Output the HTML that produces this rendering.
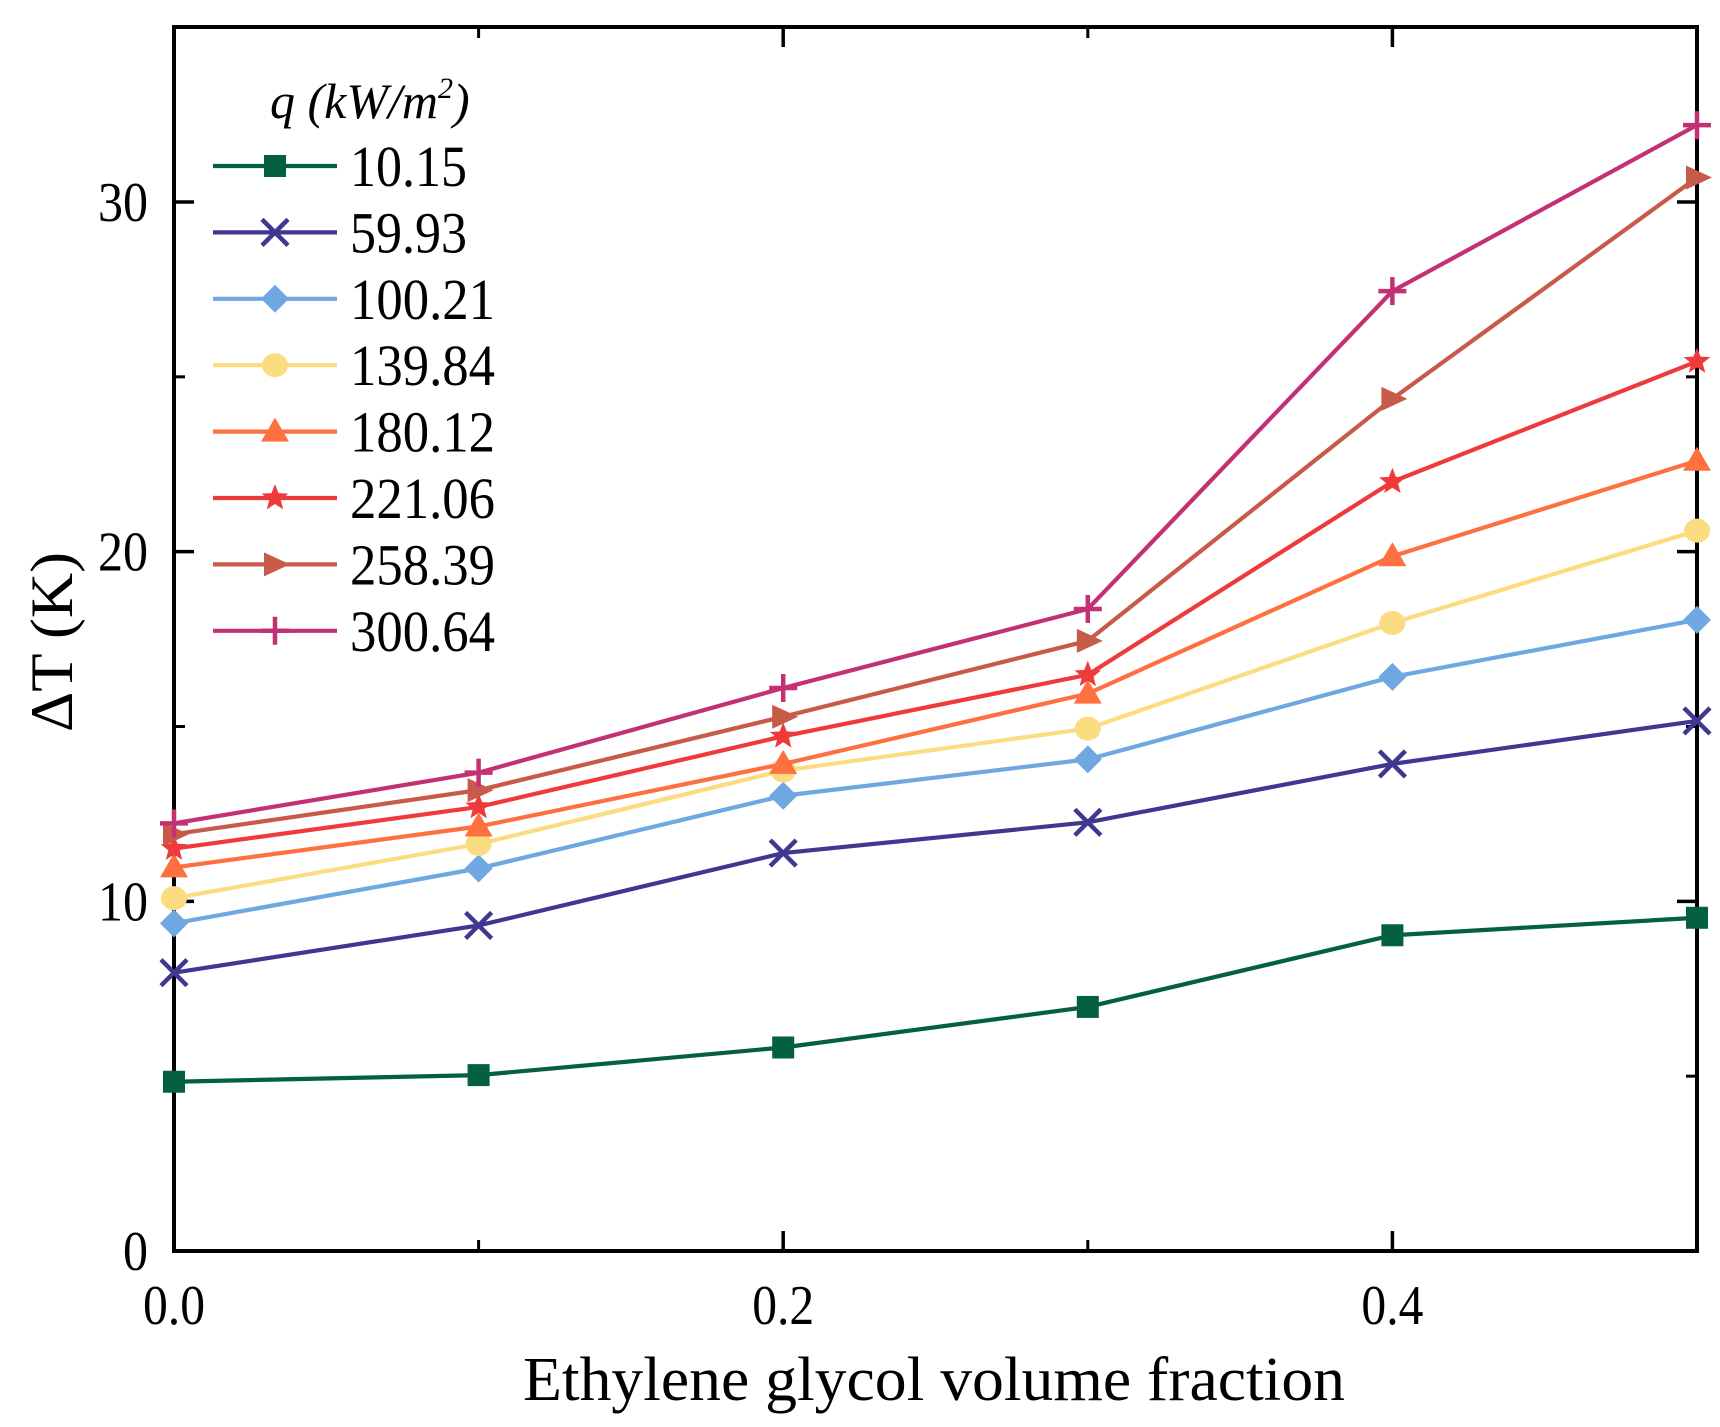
<!DOCTYPE html>
<html><head><meta charset="utf-8"><style>
html,body{margin:0;padding:0;background:#fff;}
svg{display:block;font-family:"Liberation Serif",serif;}
</style></head><body>
<svg id="chart" width="1720" height="1427" viewBox="0 0 1720 1427" xmlns="http://www.w3.org/2000/svg">
<g id="axes"></g>
<g id="series"></g>
<g id="legend"></g>
</svg>
<script>
const xValues = [0.0, 0.1, 0.2, 0.3, 0.4, 0.5];
const seriesNames = ["10.15","59.93","100.21","139.84","180.12","221.06","258.39","300.64"];
const s1 = [4.84, 5.03, 5.82, 6.98, 9.03, 9.53];
const s2 = [7.96, 9.31, 11.38, 12.26, 13.93, 15.16];
const s3 = [9.37, 10.94, 13.02, 14.06, 16.42, 18.05];
const s4 = [10.09, 11.64, 13.74, 14.94, 17.96, 20.6];
const s5 = [10.97, 12.14, 13.93, 15.94, 19.87, 22.6];
const s6 = [11.51, 12.7, 14.72, 16.48, 22.0, 25.44];
const s7 = [11.92, 13.18, 15.28, 17.45, 24.37, 30.7];
const s8 = [12.23, 13.68, 16.1, 18.36, 27.45, 32.2];
const xTicks = [0.0, 0.2, 0.4];
const xTickLabels = ["0.0","0.2","0.4"];
const xMinor = [0.1, 0.3];
const yTicks = [0, 10, 20, 30];
const yTickLabels = ["0","10","20","30"];
const yMinor = [5, 15, 25];

const allSeries=[s1,s2,s3,s4,s5,s6,s7,s8];
const colors=["#04603e","#3f3890","#6fa8e0","#fcdc80","#ff7040","#ee3a3a","#c75a48","#c33074"];
const markers=["square","x","diamond","circle","triangle","star","rtri","plus"];
const L=174,R=1697,T=27,B=1251;
const X=v=>L+(v-0)/(0.5)*(R-L);
const Y=v=>B-(v/30)*(B-202);
const NS="http://www.w3.org/2000/svg";
function mk(tag,attrs,parent){const e=document.createElementNS(NS,tag);for(const k in attrs)e.setAttribute(k,attrs[k]);parent.appendChild(e);return e;}
const axes=document.getElementById('axes');
const frame=mk('rect',{x:L,y:T,width:R-L,height:B-T,fill:'none',stroke:'#000','stroke-width':4},axes);


xTicks.forEach((t,i)=>{
  const x=X(t);
  const a=mk('line',{x1:x,y1:B,x2:x,y2:B-20,stroke:'#000','stroke-width':3.5},axes);
  
  
  const b=mk('line',{x1:x,y1:T,x2:x,y2:T+20,stroke:'#000','stroke-width':3.5},axes);
  
  
  const tx=mk('text',{x:x,y:1324,'font-size':56,'text-anchor':'middle',textLength:62,lengthAdjust:'spacingAndGlyphs'},axes);
  tx.textContent=xTickLabels[i];
  
  
});
xMinor.forEach(t=>{
  const x=X(t);
  const a=mk('line',{x1:x,y1:B,x2:x,y2:B-11,stroke:'#000','stroke-width':3},axes);
  
  
  const b=mk('line',{x1:x,y1:T,x2:x,y2:T+11,stroke:'#000','stroke-width':3},axes);
  
  
});
yTicks.forEach((t,i)=>{
  const y=Y(t);
  const a=mk('line',{x1:L,y1:y,x2:L+20,y2:y,stroke:'#000','stroke-width':3.5},axes);
  
  
  const b=mk('line',{x1:R,y1:y,x2:R-20,y2:y,stroke:'#000','stroke-width':3.5},axes);
  
  
  const tx=mk('text',{x:148,y:y+19,'font-size':56,'text-anchor':'end',textLength:yTickLabels[i].length*25,lengthAdjust:'spacingAndGlyphs'},axes);
  tx.textContent=yTickLabels[i];
  
  
});
yMinor.forEach(t=>{
  const y=Y(t);
  const a=mk('line',{x1:L,y1:y,x2:L+11,y2:y,stroke:'#000','stroke-width':3},axes);
  
  
  const b=mk('line',{x1:R,y1:y,x2:R-11,y2:y,stroke:'#000','stroke-width':3},axes);
  
  
});
const xt=mk('text',{x:934,y:1400,'font-size':62,'text-anchor':'middle',textLength:822,lengthAdjust:'spacingAndGlyphs'},axes);
xt.textContent='Ethylene glycol volume fraction';


const yt=mk('text',{x:0,y:0,'font-size':60,'text-anchor':'middle',textLength:180,lengthAdjust:'spacingAndGlyphs',transform:'translate(72,642) rotate(-90)'},axes);
yt.textContent='ΔT (K)';



function marker(type,x,y,c,parent){
  const g=mk('g',{},parent);
  if(type==='square')mk('rect',{x:x-11,y:y-11,width:22,height:22,fill:c},g);
  else if(type==='x'){mk('path',{d:`M${x-13} ${y-13}L${x+13} ${y+13}M${x-13} ${y+13}L${x+13} ${y-13}`,stroke:c,'stroke-width':4.5,fill:'none'},g);}
  else if(type==='diamond')mk('path',{d:`M${x} ${y-14}L${x+14} ${y}L${x} ${y+14}L${x-14} ${y}Z`,fill:c},g);
  else if(type==='circle')mk('ellipse',{cx:x,cy:y,rx:13,ry:12,fill:c},g);
  else if(type==='triangle')mk('path',{d:`M${x} ${y-14}L${x+14} ${y+10}L${x-14} ${y+10}Z`,fill:c},g);
  else if(type==='rtri')mk('path',{d:`M${x-11} ${y-12}L${x+15} ${y}L${x-11} ${y+12}Z`,fill:c},g);
  else if(type==='star'){let d='';for(let k=0;k<10;k++){const r=k%2?6:14;const a=-Math.PI/2+k*Math.PI/5;d+=(k?'L':'M')+(x+r*Math.cos(a))+' '+(y+r*Math.sin(a));}mk('path',{d:d+'Z',fill:c},g);}
  else if(type==='plus'){mk('path',{d:`M${x-14} ${y}L${x+14} ${y}M${x} ${y-14}L${x} ${y+14}`,stroke:c,'stroke-width':4.5,fill:'none'},g);}
  return g;
}
const series=document.getElementById('series');
allSeries.forEach((arr,si)=>{
  const g=mk('g',{},series);
  
  
  const pts=arr.map((v,i)=>X(xValues[i])+','+Y(v)).join(' ');
  const pl=mk('polyline',{points:pts,fill:'none',stroke:colors[si],'stroke-width':4.2},g);
  
  
  arr.forEach((v,i)=>{
    const m=marker(markers[si],X(xValues[i]),Y(v),colors[si],g);
    
    
  });
});
const legend=document.getElementById('legend');
const lt=mk('text',{x:270,y:118,'font-size':50,'font-style':'italic'},legend);
lt.innerHTML='q (kW/m<tspan dy="-20" font-size="30">2</tspan><tspan dy="20">)</tspan>';


seriesNames.forEach((n,i)=>{
  const y=166+i*66.4;
  const g=mk('g',{},legend);
  
  
  mk('line',{x1:213,y1:y,x2:337,y2:y,stroke:colors[i],'stroke-width':4.2},g);
  marker(markers[i],275,y,colors[i],g);
  const t=mk('text',{x:350,y:y+20,'font-size':58,textLength:(n.length===5?117:145),lengthAdjust:'spacingAndGlyphs'},g);
  t.textContent=n;
});
</script>
</body></html>
